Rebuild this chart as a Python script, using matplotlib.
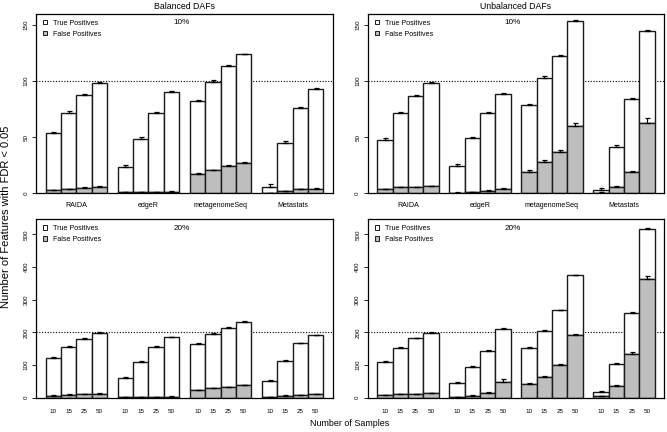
import numpy as np
import matplotlib
matplotlib.use("Agg")
import matplotlib.pyplot as plt
from matplotlib.patches import Patch

plt.rcParams['font.family'] = ['Liberation Sans', 'DejaVu Sans']

# ------------------------------------------------------------
# data
# ------------------------------------------------------------
methods = ['RAIDA', 'edgeR', 'metagenomeSeq', 'Metastats']
sample_sizes = ['10', '15', '25', '50']

# Balanced DAFs, 10%
bal10_total = [[53.6, 72.0, 88.0, 98.2],
               [23.8, 48.8, 72.0, 90.2],
               [82.1, 99.7, 113.7, 124.1],
               [5.7, 44.6, 76.5, 93.5]]
bal10_fp = [[2.7, 3.6, 5.0, 5.7],
            [0.8, 1.0, 1.0, 1.5],
            [17.3, 20.5, 24.1, 27.1],
            [0.4, 1.8, 3.6, 4.2]]
bal10_total_err = [[1.5, 1.0, 0.8, 0.8],
                   [1.2, 1.0, 0.8, 0.8],
                   [1.5, 1.0, 0.8, 0.6],
                   [2.4, 1.8, 0.8, 0.8]]
bal10_fp_err = [[0.4, 0.5, 0.5, 0.5],
                [0.3, 0.3, 0.3, 0.4],
                [0.6, 0.6, 0.8, 0.8],
                [0.3, 0.4, 0.5, 0.5]]

# Unbalanced DAFs, 10%
unb10_total = [[47.6, 71.4, 87.2, 98.8],
               [24.1, 49.1, 72.0, 89.0],
               [78.6, 103.3, 122.3, 153.9],
               [2.7, 41.7, 83.9, 145.2]]
unb10_fp = [[3.6, 5.4, 5.4, 6.2],
            [0.6, 0.9, 2.1, 4.2],
            [19.3, 28.3, 36.6, 59.8],
            [0.6, 5.7, 18.8, 62.8]]
unb10_total_err = [[1.8, 1.2, 0.8, 0.6],
                   [1.8, 1.2, 0.8, 0.8],
                   [1.2, 1.0, 0.8, 0.6],
                   [1.8, 1.2, 0.8, 0.5]]
unb10_fp_err = [[0.5, 0.5, 0.5, 0.5],
                [0.3, 0.4, 0.5, 0.8],
                [1.2, 1.5, 1.8, 3.0],
                [0.8, 0.8, 1.5, 4.5]]

# Balanced DAFs, 20%
bal20_total = [[120.4, 156.0, 180.6, 198.0],
               [61.0, 110.0, 156.0, 184.7],
               [164.0, 195.0, 214.0, 231.6],
               [50.0, 113.0, 166.0, 191.0]]
bal20_fp = [[6.0, 9.0, 10.0, 12.0],
            [1.0, 2.0, 2.0, 3.0],
            [23.5, 29.6, 32.6, 37.8],
            [2.0, 6.0, 8.0, 10.0]]
bal20_total_err = [[3.0, 2.0, 2.0, 2.0],
                   [3.0, 2.5, 2.0, 2.0],
                   [2.5, 2.0, 2.0, 2.0],
                   [3.0, 2.5, 2.0, 2.0]]
bal20_fp_err = [[1.0, 1.0, 1.0, 1.0],
                [0.5, 0.5, 0.5, 0.8],
                [1.5, 1.5, 1.5, 1.5],
                [0.8, 1.0, 1.0, 1.0]]

# Unbalanced DAFs, 20%
unb20_total = [[110.0, 153.0, 181.6, 199.0],
               [44.0, 95.0, 144.0, 211.0],
               [153.0, 204.0, 267.0, 374.5],
               [18.0, 104.0, 258.0, 516.0]]
unb20_fp = [[8.0, 10.0, 11.0, 13.0],
            [1.0, 6.0, 14.0, 49.0],
            [41.0, 63.0, 100.0, 191.0],
            [4.0, 37.0, 135.0, 362.0]]
unb20_total_err = [[3.0, 2.0, 2.0, 2.0],
                   [3.0, 3.0, 2.0, 2.0],
                   [3.0, 3.0, 2.0, 2.0],
                   [3.0, 3.0, 3.0, 2.0]]
unb20_fp_err = [[1.0, 1.0, 1.0, 1.0],
                [1.0, 2.0, 2.0, 8.0],
                [3.0, 3.0, 4.0, 5.0],
                [2.0, 3.0, 5.0, 10.0]]

panels = [
    # total, fp, total err, fp err, ylim, yticks, ref line, label, title
    (bal10_total, bal10_fp, bal10_total_err, bal10_fp_err, 160, [0, 50, 100, 150], 100, '10%', 'Balanced DAFs'),
    (unb10_total, unb10_fp, unb10_total_err, unb10_fp_err, 160, [0, 50, 100, 150], 100, '10%', 'Unbalanced DAFs'),
    (bal20_total, bal20_fp, bal20_total_err, bal20_fp_err, 546, [0, 100, 200, 300, 400, 500], 200, '20%', None),
    (unb20_total, unb20_fp, unb20_total_err, unb20_fp_err, 546, [0, 100, 200, 300, 400, 500], 200, '20%', None),
]

FP_COLOR = '#BEBEBE'
EDGE = '#1a1a1a'
GROUP_STEP = 4.7

fig = plt.figure(figsize=(6.67, 4.32), dpi=100)
W, H = 667.0, 432.0
# axes boxes in pixels: left, top, right, bottom
boxes = [(36, 14, 333, 193.3), (367.7, 14, 664.3, 193.3),
         (36, 219.3, 333, 397.7), (367.7, 219.3, 664.3, 397.7)]

for k, (total, fp, terr, ferr, ymax, yticks, ref, pct, title) in enumerate(panels):
    l, t, r, b = boxes[k]
    ax = fig.add_axes([l / W, 1 - b / H, (r - l) / W, (b - t) / H])

    total = np.array(total)
    fp = np.array(fp)
    x = np.array([g * GROUP_STEP + i + 0.5 for g in range(4) for i in range(4)])
    tot = total.flatten()
    fpf = fp.flatten()

    ax.bar(x, tot - fpf, bottom=fpf, width=1.0, color='white',
           edgecolor=EDGE, linewidth=1.0, zorder=2)
    ax.bar(x, fpf, width=1.0, color=FP_COLOR, edgecolor=EDGE,
           linewidth=1.0, zorder=2)
    z = np.zeros_like(tot)
    ax.errorbar(x, tot, yerr=[z, np.array(terr).flatten()], fmt='none',
                ecolor='black', elinewidth=0.8, capsize=1.8, capthick=0.9, zorder=3)
    ax.errorbar(x, fpf, yerr=[z, np.array(ferr).flatten()], fmt='none',
                ecolor='black', elinewidth=0.8, capsize=1.8, capthick=0.9, zorder=3)

    ax.axhline(ref, color='black', linestyle=(0, (1, 1.5)), linewidth=0.8, zorder=1)

    ax.set_xlim(-0.63, 3 * GROUP_STEP + 4 + 0.63)
    ax.set_ylim(0, ymax)
    ax.set_yticks(yticks)
    ax.tick_params(axis='y', labelsize=4.5, length=2.9, width=0.6, pad=2.5,
                   labelrotation=90)
    for lab in ax.get_yticklabels():
        lab.set_va('center')

    if k < 2:
        centers = [g * GROUP_STEP + 2 for g in range(4)]
        ax.set_xticks(centers)
        ax.set_xticklabels(methods)
        ax.tick_params(axis='x', length=0, labelsize=5.1, pad=6.5)
    else:
        ax.set_xticks(x)
        ax.set_xticklabels(sample_sizes * 4)
        ax.tick_params(axis='x', length=0, labelsize=4.5, pad=8.0)

    for s in ax.spines.values():
        s.set_linewidth(0.9)

    ax.text(0.49, 0.95, pct, transform=ax.transAxes, ha='center', va='center',
            fontsize=5.9)
    if title:
        ax.set_title(title, fontsize=6.3, pad=3.5)

    handles = [Patch(facecolor='white', edgecolor=EDGE, linewidth=0.7),
               Patch(facecolor=FP_COLOR, edgecolor=EDGE, linewidth=0.7)]
    ax.legend(handles, ['True Positives', 'False Positives'], loc='upper left',
              bbox_to_anchor=(0.024, 0.968), borderaxespad=0, borderpad=0,
              frameon=False, fontsize=5.1, handlelength=0.6, handleheight=0.6,
              handletextpad=0.8, labelspacing=0.55)

fig.text(0.009, 1 - 217 / H, 'Number of Features with FDR < 0.05', rotation=90,
         ha='center', va='center', fontsize=8.0)
fig.text(350 / W, 1 - 423 / H, 'Number of Samples', ha='center', va='center',
         fontsize=6.4)

fig.savefig('out.png', dpi=100)
